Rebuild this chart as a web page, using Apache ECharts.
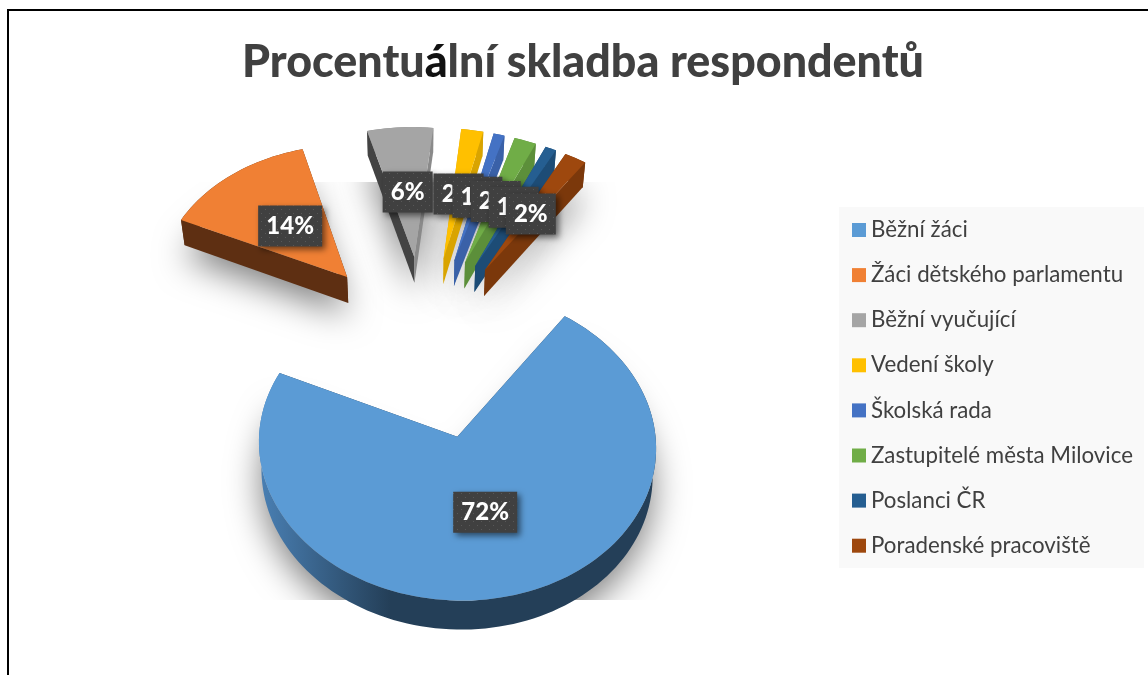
<!DOCTYPE html>
<html><head><meta charset="utf-8">
<style>html,body{margin:0;padding:0;background:#fff}#c{width:1148px;height:675px}</style>
<script src="https://cdn.jsdelivr.net/npm/echarts@6/dist/echarts.min.js"></script>
</head><body><div id="c"></div>
<script>
const categories = ['Běžní žáci','Žáci dětského parlamentu','Běžní vyučující','Vedení školy','Školská rada','Zastupitelé města Milovice','Poslanci ČR','Poradenské pracoviště'];
const values = [72,14,6,2,1,2,1,2];
const topColors = ['#5B9BD5','#F08034','#A5A5A5','#FFC000','#4472C4','#70AD47','#255E91','#9E480E'];
const rimColors = ['#243F58','#5E2F12','#8a8a8a','#C89C00','#3A61A8','#5C8F3A','#1D4C76','#7B380B'];
const startFaceColors = ['#243F58','#5E2F12','#434343','#DDA800','#3A61A8','#5C8F3A','#1D4C76','#7B380B'];
const endFaceColors = ['#243F58','#5E2F12','#8a8a8a','#D9A400','#3A61A8','#5C8F3A','#1D4C76','#7B380B'];
const drawOrder = [2,3,4,5,6,7,1,0];

// projection of the tilted pie (layout only)
const view = {cx:424, cy:345.5, k:198, A:150, p:0.053, R:0.97, E:0.61, wall:26.6, baseScale:0.985, skew:-2.8, startAngle:35.7};
const total = values.reduce((a,b)=>a+b,0);
const D2R = Math.PI/180;
let acc = view.startAngle;
const spans = values.map(v=>{const s=acc; acc+=v/total*360; return [s,acc];});

function project(X,Y,base){
  const den = 1+view.p*Y;
  let x = view.cx + view.k*X/den, y = view.cy - view.A*Y/den;
  if(base){ x = view.cx+(x-view.cx)*view.baseScale; y += view.wall/den; }
  return [x+view.skew*Y,y];
}
function point(i,r,deg,base){
  const m=(spans[i][0]+spans[i][1])/2*D2R, t=deg*D2R;
  return project(view.E*Math.sin(m)+r*Math.sin(t), view.E*Math.cos(m)+r*Math.cos(t), base);
}
function arc(i,base){
  const pts=[], [s,e]=spans[i], n=Math.max(4,Math.ceil((e-s)/2));
  for(let j=0;j<=n;j++) pts.push(point(i,view.R,s+(e-s)*j/n,base));
  return pts;
}
function poly(points,fill,extra){ return Object.assign({type:'polygon',silent:true,shape:{points},style:{fill}},extra||{}); }

function sliceItem(i){
  return function(){
    const top=arc(i,false), bot=arc(i,true), a=point(i,0,0,false), b=point(i,0,0,true);
    const rimFill = i===0 ? new echarts.graphic.LinearGradient(0,0,1,0,[{offset:0,color:'#4A80B4'},{offset:.33,color:'#243F58'},{offset:1,color:'#243F58'}]) : rimColors[i];
    return {type:'group',children:[
      poly(top.concat(bot.slice().reverse()),rimFill),
      poly([a,top[0],bot[0],b],startFaceColors[i]),
      poly([a,top[top.length-1],bot[bot.length-1],b],endFaceColors[i]),
      poly([a].concat(top),topColors[i])
    ]};
  };
}

// dotted label fill
const tile=document.createElement('canvas'); tile.width=tile.height=8;
(function(){const g=tile.getContext('2d');g.fillStyle='#404040';g.fillRect(0,0,8,8);g.fillStyle='#585858';g.fillRect(1,1,1,1);g.fillRect(5,5,1,1);})();

function labelItem(i){
  return function(){
    const m=(spans[i][0]+spans[i][1])/2, c=point(i,view.R*0.49,m,false);
    const w = values[i]>=10?64:50, h=41, cx=c[0]+0.5, cy=c[1];
    return {type:'group',children:[
      {type:'rect',silent:true,shape:{x:cx-w/2,y:cy-h/2,width:w,height:h},
       style:{fill:{image:tile,repeat:'repeat'},shadowBlur:6,shadowOffsetX:3,shadowOffsetY:3,shadowColor:'rgba(0,0,0,.55)'}},
      {type:'text',silent:true,style:{x:cx,y:cy,text:values[i]+'%',fill:'#fff',font:'900 24px Lato',align:'center',verticalAlign:'middle'}}
    ]};
  };
}

// soft drop shadow only: the caster sits off-canvas, its blur is offset back
const OFF=3000;
function shadowItem(){
  return function(){
    const kids=[];
    values.forEach((v,i)=>{
      const bot=arc(i,true), b=point(i,0,0,true);
      kids.push(poly([b].concat(bot).map(p=>[p[0]-OFF,p[1]+12]),'#000',{style:{fill:'#000',shadowBlur:34,shadowOffsetX:OFF,shadowColor:'rgba(0,0,0,.5)'}}));
    });
    return {type:'group',clipPath:{type:'rect',shape:{x:-OFF,y:182,width:2*OFF+1148,height:418}},children:kids};
  };
}

const series=[{type:'custom',name:'_shadow',coordinateSystem:'none',z:1,silent:true,animation:false,data:[[0]],renderItem:shadowItem()}];
drawOrder.forEach((i,o)=>{
  series.push({type:'custom',name:categories[i],coordinateSystem:'none',z:2+o,silent:true,animation:false,
    itemStyle:{color:topColors[i]},data:[[values[i]]],renderItem:sliceItem(i)});
});
values.forEach((v,i)=>{
  series.push({type:'custom',name:'_label'+i,coordinateSystem:'none',z:20+i,silent:true,animation:false,data:[[v]],renderItem:labelItem(i)});
});

const chart=echarts.init(document.getElementById('c'),null,{renderer:'canvas'});
chart.setOption({
  animation:false,backgroundColor:'#fff',
  title:{text:'{a|Procentu}{b|á}{a|lní skladba respondentů}',left:578,top:35,textAlign:'center',
    textStyle:{rich:{a:{fontFamily:'Lato',fontWeight:900,fontSize:44.8,color:'#404040'},b:{fontFamily:'Lato',fontWeight:900,fontSize:44.8,color:'#111'}}}},
  legend:{data:categories,orient:'vertical',left:852,top:219,padding:0,itemWidth:14,itemHeight:14,itemGap:23.1,icon:'rect',selectedMode:false,
    textStyle:{fontFamily:'Lato',fontSize:22.3,color:'#404040'}},
  graphic:[
    {type:'rect',z:-1,silent:true,shape:{x:839,y:207,width:305,height:361},style:{fill:'#F9F9F9'}},
    {type:'line',silent:true,shape:{x1:7,y1:10,x2:1148,y2:10},style:{stroke:'#000',lineWidth:2}},
    {type:'line',silent:true,shape:{x1:8,y1:10,x2:8,y2:675},style:{stroke:'#000',lineWidth:2}}
  ],
  series
});
</script></body></html>
